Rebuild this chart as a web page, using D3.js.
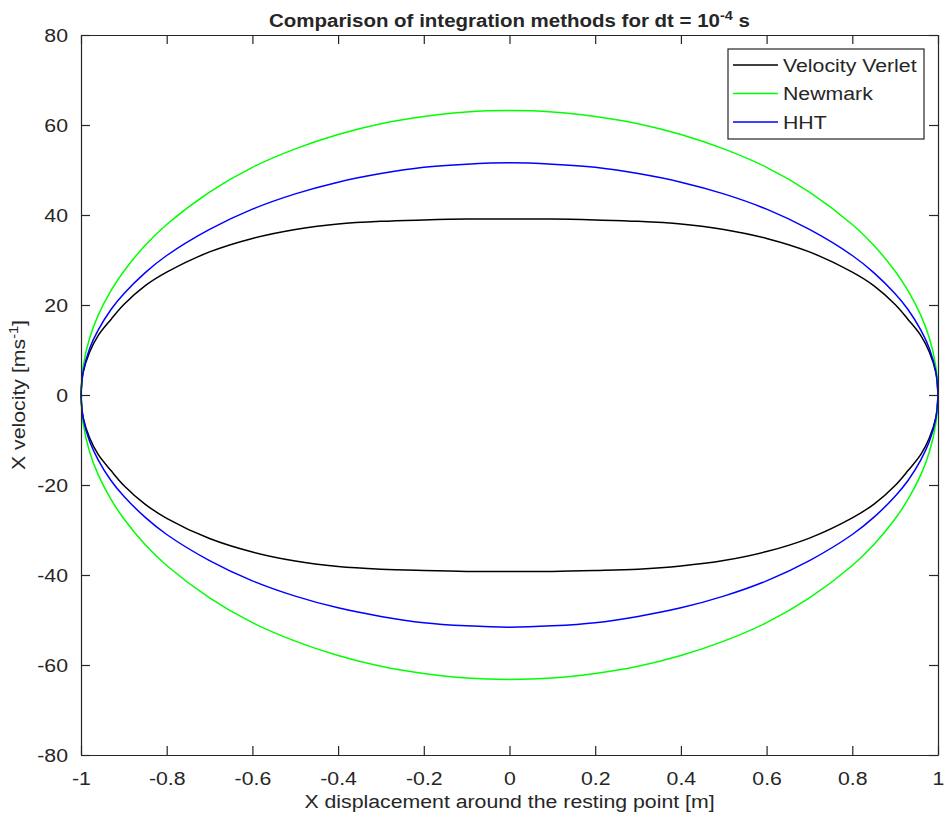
<!DOCTYPE html>
<html><head><meta charset="utf-8">
<script src="https://cdn.jsdelivr.net/npm/d3@7"></script>
<style>
html,body{margin:0;padding:0;background:#fff;}
text{font-family:"Liberation Sans",Arial,Helvetica,sans-serif;fill:#262626;}
</style></head>
<body>
<svg id="chart" width="944" height="818"></svg>
<script>
// ---- data ----
const xPos = [-1,-0.995,-0.98,-0.96,-0.93,-0.9,-0.85,-0.8,-0.7,-0.6,-0.5,-0.4,-0.3,-0.2,-0.1,0,
              0.1,0.2,0.3,0.4,0.5,0.6,0.7,0.8,0.85,0.9,0.93,0.96,0.98,0.995,1];
const verletUpper  = [0,5.0,9.5,13.2,16.8,20.1,24.3,27.3,31.8,34.8,36.8,38.0,38.6,38.9,39.1,39.1,
                      39.1,38.9,38.6,38.0,36.8,34.8,31.8,27.3,24.3,20.1,16.8,13.2,9.5,5.0,0];
const verletLower  = [0,-5.0,-9.5,-13.2,-16.8,-20.1,-24.3,-27.4,-31.9,-34.9,-36.9,-38.1,-38.7,-39.0,-39.2,-39.2,
                      -39.2,-39.0,-38.7,-38.0,-36.8,-34.8,-31.8,-27.3,-24.3,-20.1,-16.8,-13.2,-9.5,-5.0,0];
const newmarkUpper = [0,6.3,12.6,17.7,23.2,27.5,33.3,37.9,45.1,50.6,54.7,57.9,60.3,61.9,62.9,63.2,
                      62.9,61.9,60.3,57.9,54.7,50.6,45.1,37.9,33.3,27.5,23.2,17.7,12.6,6.3,0];
const newmarkLower = [0,-6.3,-12.6,-17.7,-23.2,-27.5,-33.3,-37.9,-45.1,-50.6,-54.7,-57.9,-60.3,-61.9,-62.9,-63.2,
                      -62.9,-61.9,-60.3,-57.9,-54.7,-50.6,-45.1,-37.9,-33.3,-27.5,-23.2,-17.7,-12.6,-6.3,0];
const hhtUpper     = [0,5.2,10.3,14.4,19.0,22.5,27.2,31.0,36.8,41.3,44.7,47.3,49.2,50.6,51.3,51.6,
                      51.3,50.6,49.2,47.3,44.7,41.3,36.8,31.0,27.2,22.5,19.0,14.4,10.3,5.2,0];
const hhtLower     = [0,-5.2,-10.3,-14.4,-19.0,-22.5,-27.2,-31.0,-36.8,-41.3,-44.7,-47.3,-49.2,-50.6,-51.3,-51.6,
                      -51.3,-50.6,-49.2,-47.3,-44.7,-41.3,-36.8,-31.0,-27.2,-22.5,-19.0,-14.4,-10.3,-5.2,0];
const seriesNames  = ["Velocity Verlet","Newmark","HHT"];
const seriesColors = ["#000000","#00ff00","#0000ff"];
const xTicks = [-1,-0.8,-0.6,-0.4,-0.2,0,0.2,0.4,0.6,0.8,1];
const yTicks = [-80,-60,-40,-20,0,20,40,60,80];

// ---- layout ----
const svg = d3.select("#chart");
const L = 81, R = 938, T = 35, B = 755;
const x = d3.scaleLinear().domain([-1,1]).range([L,R]);
const y = d3.scaleLinear().domain([-80,80]).range([B,T]);
const axisColor = "#262626";
const fs = 19;
const SX = 1.12; // horizontal text stretch seen in the reference

function stretch(sel){
  sel.each(function(){
    const t = d3.select(this);
    const tx = +t.attr("x") || 0, ty = +t.attr("y") || 0;
    t.attr("x",0).attr("y",0).attr("transform",`translate(${tx},${ty}) scale(${SX},1)`);
  });
}

// curves
const series = [
  {name:seriesNames[0], color:seriesColors[0], up:verletUpper, lo:verletLower},
  {name:seriesNames[1], color:seriesColors[1], up:newmarkUpper, lo:newmarkLower},
  {name:seriesNames[2], color:seriesColors[2], up:hhtUpper, lo:hhtLower}
];
const line = d3.line().x(d=>x(d[0])).y(d=>y(d[1])).curve(d3.curveCatmullRom.alpha(0.5));
const gCurves = svg.append("g");
series.forEach(s=>{
  const up = xPos.map((v,i)=>[v,s.up[i]]);
  const lo = xPos.map((v,i)=>[v,s.lo[i]]);
  gCurves.append("path").attr("d",line(up)).attr("fill","none").attr("stroke",s.color).attr("stroke-width",1.5);
  gCurves.append("path").attr("d",line(lo)).attr("fill","none").attr("stroke",s.color).attr("stroke-width",1.5);
});

// axes
const tl = 9;
const xb = svg.append("g").attr("transform",`translate(0,${B})`)
  .call(d3.axisBottom(x).tickValues(xTicks).tickSizeInner(-tl).tickSizeOuter(0).tickPadding(tl+8).tickFormat(d=>String(d)));
const xt = svg.append("g").attr("transform",`translate(0,${T})`)
  .call(d3.axisTop(x).tickValues(xTicks).tickSizeInner(-tl).tickSizeOuter(0).tickFormat(""));
const yl = svg.append("g").attr("transform",`translate(${L},0)`)
  .call(d3.axisLeft(y).tickValues(yTicks).tickSizeInner(-tl).tickSizeOuter(0).tickPadding(tl+4).tickFormat(d=>String(d)));
const yr = svg.append("g").attr("transform",`translate(${R},0)`)
  .call(d3.axisRight(y).tickValues(yTicks).tickSizeInner(-tl).tickSizeOuter(0).tickFormat(""));
[xb,xt,yl,yr].forEach(g=>{
  g.selectAll("path").attr("stroke",axisColor).attr("stroke-width",1.2);
  g.selectAll("line").attr("stroke",axisColor).attr("stroke-width",1.2);
  g.selectAll("text").attr("font-size",fs).attr("fill",axisColor)
   .style("font-family",'"Liberation Sans",Arial,sans-serif');
});
xb.selectAll("text").attr("dy","0.71em");
stretch(xb.selectAll("text"));
stretch(yl.selectAll("text"));

// title
const title = svg.append("text").attr("x",(L+R)/2).attr("y",27).attr("text-anchor","middle")
  .attr("font-size",18.3).attr("font-weight","bold").attr("fill","#000");
title.append("tspan").text("Comparison of integration methods for dt = 10");
title.append("tspan").attr("dy",-7).attr("font-size",13).text("-4");
title.append("tspan").attr("dy",7).text(" s");
stretch(title);

// axis labels
const xlab = svg.append("text").attr("x",(L+R)/2).attr("y",808).attr("text-anchor","middle")
  .attr("font-size",fs).text("X displacement around the resting point [m]");
stretch(xlab);
const ylab = svg.append("text").attr("transform",`translate(25,${(T+B)/2}) rotate(-90) scale(${SX},1)`)
  .attr("text-anchor","middle").attr("font-size",fs);
ylab.append("tspan").text("X velocity [ms");
ylab.append("tspan").attr("dy",-7).attr("font-size",13).text("-1");
ylab.append("tspan").attr("dy",7).text("]");

// legend
const lg = svg.append("g");
lg.append("rect").attr("x",728).attr("y",49).attr("width",196).attr("height",90)
  .attr("fill","#fff").attr("stroke",axisColor).attr("stroke-width",1.2);
series.forEach((s,i)=>{
  const yy = 65 + i*28.5;
  lg.append("line").attr("x1",733).attr("x2",778).attr("y1",yy).attr("y2",yy)
    .attr("stroke",s.color).attr("stroke-width",1.5);
  const t = lg.append("text").attr("x",783).attr("y",yy).attr("dy","0.35em").attr("font-size",fs)
    .attr("fill","#000").text(s.name);
  stretch(t);
});
</script>
</body></html>
